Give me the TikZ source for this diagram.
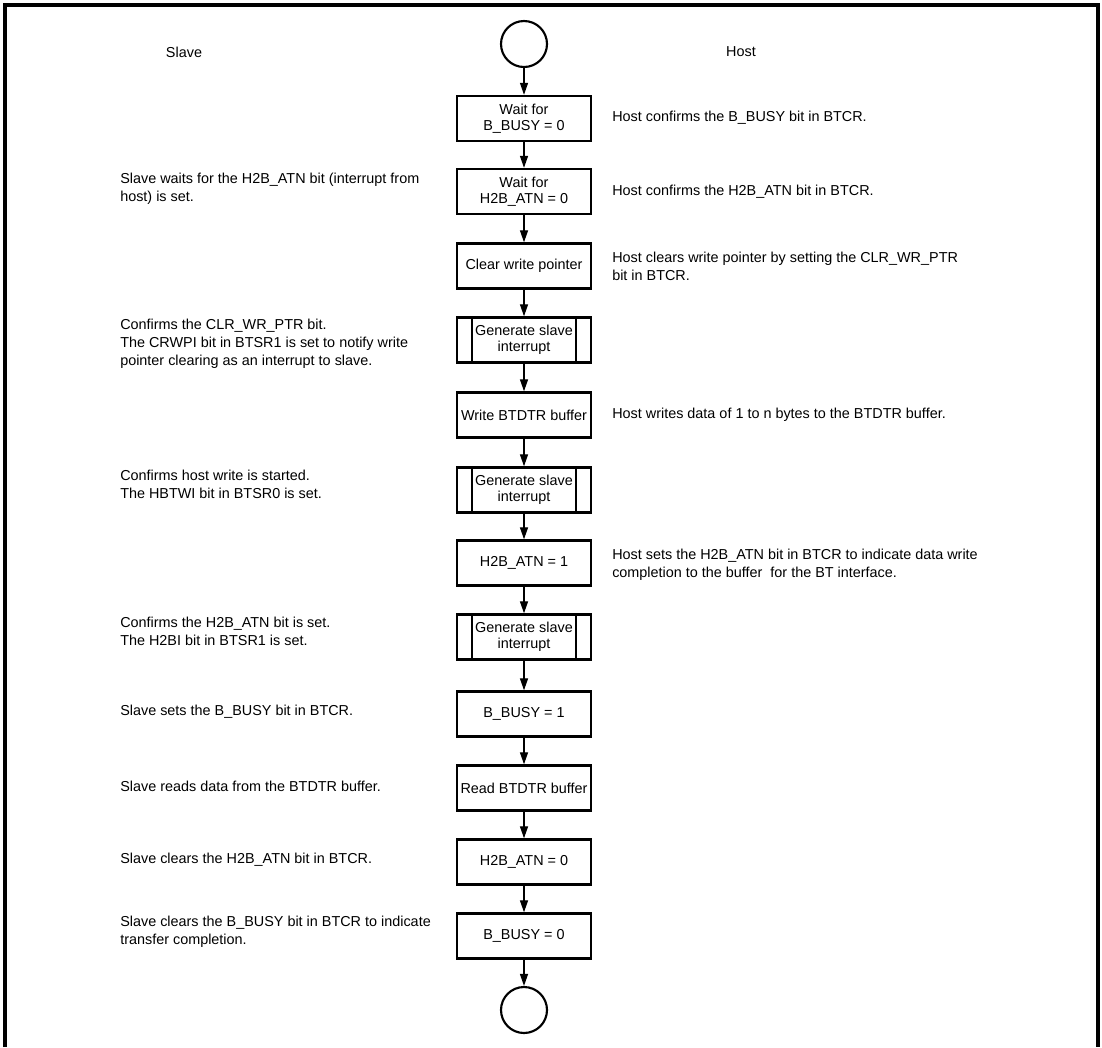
\documentclass[tikz,border=0pt]{standalone}
\usepackage{fontspec}
\setmainfont{Liberation Sans}
\usetikzlibrary{arrows.meta}

\begin{document}
\begin{tikzpicture}[
          x=0.75pt, y=-0.75pt,
          font=\fontsize{10.8}{13.5}\selectfont,
          lbl/.style={align=left, anchor=west, inner sep=0pt},
          proc/.style={draw, line width=1.8pt, minimum width=100.5pt, minimum height=33.75pt, inner sep=2pt, align=center, font=\fontsize{10.8}{12.2}\selectfont},
          subproc/.style={proc, path picture={
              \draw[line width=1.8pt] ([xshift=11.25pt]path picture bounding box.north west) -- ([xshift=11.25pt]path picture bounding box.south west);
              \draw[line width=1.8pt] ([xshift=-11.25pt]path picture bounding box.north east) -- ([xshift=-11.25pt]path picture bounding box.south east);}},
          term/.style={draw, circle, line width=1.6pt, minimum size=34.5pt, inner sep=0pt},
          flow/.style={-{Triangle[length=9pt,width=6pt]}, line width=1pt}
      ]
        \useasboundingbox (0,0) rectangle (1102,1047);
        \draw[line width=2.4pt] (5,1047) -- (5,5) -- (1098,5) -- (1098,1047);

        % column headings
        \node (slave) at (184,52) {Slave};
        \node (host) at (741,52) {Host};

        % flow
        \node[term] (start) at (524,44) {};
        \node[proc] (waitbusy) at (524,118.5) {Wait for\\B\_BUSY = 0};
        \node[proc] (waitatn) at (524,191.5) {Wait for\\H2B\_ATN = 0};
        \node[proc] (clrptr) at (524,266) {Clear write pointer};
        \node[subproc] (irqa) at (524,340) {Generate slave\\interrupt};
        \node[proc] (wrbuf) at (524,415) {Write BTDTR buffer};
        \node[subproc] (irqb) at (524,490) {Generate slave\\interrupt};
        \node[proc] (setatn) at (524,563) {H2B\_ATN = 1};
        \node[subproc] (irqc) at (524,637) {Generate slave\\interrupt};
        \node[proc] (setbusy) at (524,714) {B\_BUSY = 1};
        \node[proc] (rdbuf) at (524,788) {Read BTDTR buffer};
        \node[proc] (clratn) at (524,862) {H2B\_ATN = 0};
        \node[proc] (clrbusy) at (524,936) {B\_BUSY = 0};
        \node[term] (stop) at (524,1010) {};

        \draw[flow] (start) -- (waitbusy);
        \draw[flow] (waitbusy) -- (waitatn);
        \draw[flow] (waitatn) -- (clrptr);
        \draw[flow] (clrptr) -- (irqa);
        \draw[flow] (irqa) -- (wrbuf);
        \draw[flow] (wrbuf) -- (irqb);
        \draw[flow] (irqb) -- (setatn);
        \draw[flow] (setatn) -- (irqc);
        \draw[flow] (irqc) -- (setbusy);
        \draw[flow] (setbusy) -- (rdbuf);
        \draw[flow] (rdbuf) -- (clratn);
        \draw[flow] (clratn) -- (clrbusy);
        \draw[flow] (clrbusy) -- (stop);

        % slave side notes
        \node[lbl] (swait) at (120,189) {Slave waits for the H2B\_ATN bit (interrupt from\\host) is set.};
        \node[lbl] (sclr) at (120,344) {Confirms the CLR\_WR\_PTR bit.\\The CRWPI bit in BTSR1 is set to notify write\\pointer clearing as an interrupt to slave.};
        \node[lbl] (swr) at (120,484.5) {Confirms host write is started.\\The HBTWI bit in BTSR0 is set.};
        \node[lbl] (satn) at (120,631) {Confirms the H2B\_ATN bit is set.\\The H2BI bit in BTSR1 is set.};
        \node[lbl] (sbusy) at (120,712) {Slave sets the B\_BUSY bit in BTCR.};
        \node[lbl] (srd) at (120,786) {Slave reads data from the BTDTR buffer.};
        \node[lbl] (sclratn) at (120,860) {Slave clears the H2B\_ATN bit in BTCR.};
        \node[lbl] (sdone) at (120,932) {Slave clears the B\_BUSY bit in BTCR to indicate\\transfer completion.};

        % host side notes
        \node[lbl] (hbusy) at (612,118) {Host confirms the B\_BUSY bit in BTCR.};
        \node[lbl] (hatn) at (612,192) {Host confirms the H2B\_ATN bit in BTCR.};
        \node[lbl] (hclr) at (612,266) {Host clears write pointer by setting the CLR\_WR\_PTR\\bit in BTCR.};
        \node[lbl] (hwr) at (612,415) {Host writes data of 1 to n bytes to the BTDTR buffer.};
        \node[lbl] (hset) at (612,564.5) {Host sets the H2B\_ATN bit in BTCR to indicate data write\\completion to the buffer\ \ for the BT interface.};
      \end{tikzpicture}
\end{document}
